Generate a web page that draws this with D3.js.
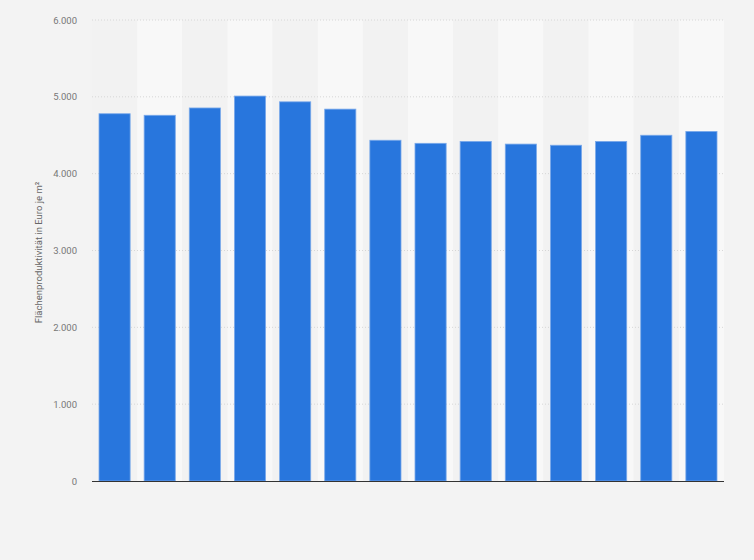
<!DOCTYPE html>
<html>
<head>
<meta charset="utf-8">
<script src="https://cdn.jsdelivr.net/npm/d3@7"></script>
<style>
  html, body { margin: 0; padding: 0; background: #f3f3f3; }
  svg { display: block; }
</style>
</head>
<body>
<svg id="chart" width="754" height="560"></svg>
<script>
(function() {

  // one bar per year, the year labels are not shown in the picture
  const categories = ["1", "2", "3", "4", "5", "6", "7", "8", "9", "10", "11", "12", "13", "14"];
  const values = [4780, 4760, 4855, 5010, 4935, 4840, 4435, 4395, 4420, 4385, 4370, 4420, 4500, 4550];
  const yTicks = [0, 1000, 2000, 3000, 4000, 5000, 6000];
  const yLabel = "Flächenproduktivität in Euro je m²";

  const BAR = "#2876dd";
  const TEXT = "#777777";
  const margin = { top: 20, right: 30, bottom: 79, left: 92 };
  const width = 754, height = 560;

  const svg = d3.select("#chart");

  const x = d3.scaleBand()
    .domain(categories)
    .range([margin.left, width - margin.right])
    .paddingInner(0.31)
    .paddingOuter(0.155);

  const y = d3.scaleLinear()
    .domain([0, 6000])
    .range([height - margin.bottom, margin.top]);

  const fmt = v => d3.format(",")(v).replace(/,/g, ".");

  // alternating column backgrounds
  const step = x.step();
  svg.append("g")
    .selectAll("rect")
    .data(categories)
    .join("rect")
    .attr("x", d => x(d) - step * x.paddingInner() / 2)
    .attr("y", y(6000))
    .attr("width", step)
    .attr("height", y(0) - y(6000))
    .attr("fill", (d, i) => i % 2 === 0 ? "#f2f2f2" : "#f8f8f8");

  // grid lines
  svg.append("g")
    .selectAll("line")
    .data(yTicks.filter(t => t > 0))
    .join("line")
    .attr("x1", margin.left).attr("x2", width - margin.right)
    .attr("y1", d => y(d)).attr("y2", d => y(d))
    .attr("stroke", "#d6d6d6")
    .attr("stroke-dasharray", "1,2");

  // y axis
  const yAxis = svg.append("g")
    .attr("transform", `translate(${margin.left - 15},0)`)
    .call(d3.axisLeft(y).tickValues(yTicks).tickFormat(fmt).tickSize(0).tickPadding(0));
  yAxis.select(".domain").remove();
  yAxis.selectAll("text")
    .attr("font-family", "Roboto, Arial, sans-serif")
    .attr("font-size", 9.5)
    .attr("fill", TEXT);

  svg.append("text")
    .attr("transform", `translate(42,${(y(0) + y(6000)) / 2 + 2}) rotate(-90)`)
    .attr("text-anchor", "middle")
    .attr("font-family", "Roboto, Arial, sans-serif")
    .attr("font-size", 9.5)
    .attr("fill", "#666666")
    .text(yLabel);

  // bars
  svg.append("g")
    .selectAll("rect")
    .data(values)
    .join("rect")
    .attr("x", (d, i) => x(categories[i]))
    .attr("y", d => y(d))
    .attr("width", x.bandwidth())
    .attr("height", d => y(0) - y(d))
    .attr("fill", BAR)
    .attr("stroke", "#7aa9ea")
    .attr("stroke-width", 0.8);

  // baseline
  svg.append("line")
    .attr("x1", margin.left).attr("x2", width - margin.right)
    .attr("y1", y(0) + 0.5).attr("y2", y(0) + 0.5)
    .attr("stroke", "#333333")
    .attr("stroke-width", 1.2);

})();
</script>
</body>
</html>
